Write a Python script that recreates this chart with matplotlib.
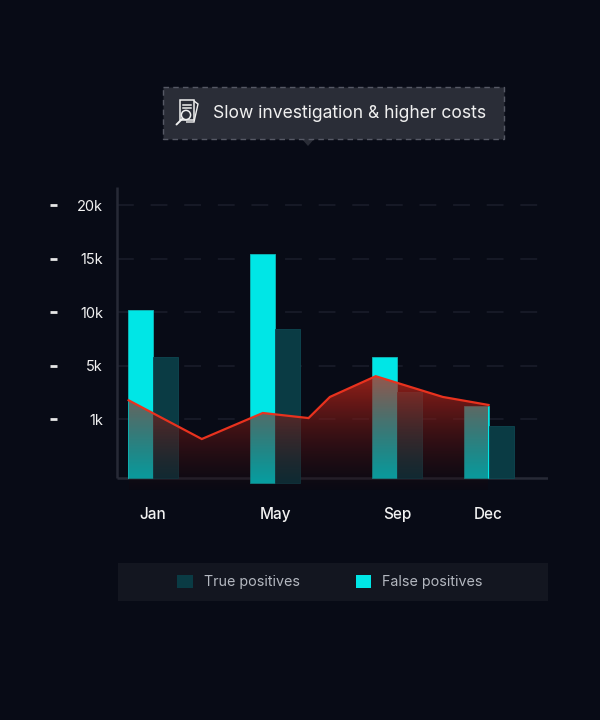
import numpy as np
from matplotlib import pyplot as plt
from matplotlib.patches import Rectangle, Polygon, Circle

plt.rcParams['font.family'] = ['Inter', 'DejaVu Sans']

# chart data (values in thousands)
months = ['Jan', 'May', 'Sep', 'Dec']
month_num = [1, 5, 9, 12]
false_pos = [10.2, 15.4, 5.75, 1.95]
true_pos = [5.75, 8.4, 3.05, 0.88]
bar_bottom = [0, -0.09, 0, 0]

trend_month = [0.2, 2.6, 4.6, 6.1, 6.8, 8.3, 10.5, 12.0]
trend_k = [2.4, 0.66, 1.45, 1.07, 2.65, 4.2, 2.65, 2.05]

tick_k = [1, 5, 10, 15, 20]
tick_lab = ['1k', '5k', '10k', '15k', '20k']

BG = '#080b16'
CYAN = '#00e6e6'
TEAL = '#0a3b44'
RED = '#e8321e'

# the value axis is stretched so that ticks 1k..20k sit evenly
KP = [-10, 0, 1, 5, 10, 15, 20, 30]
PP = [-11.1, -0.1, 1, 2, 3, 4, 5, 7]


def fwd(k):
    return np.interp(k, KP, PP)


def inv(p):
    return np.interp(p, PP, KP)


fig = plt.figure(figsize=(6, 7.2), dpi=100, facecolor=BG)
ax = fig.add_axes([117/600, 1-490/720, 431/600, 305/720])
ax.set_facecolor(BG)
ax.set_yscale('function', functions=(fwd, inv))

for s in ax.spines.values():
    s.set_visible(False)

xlo, xhi = -0.18, 13.95
ylo, yhi = inv(-0.327), inv(5.374)

# grid
for k in tick_k:
    ax.axhline(k, color='#1b1e2b', lw=1.1, ls=(0, (11, 11)), zorder=0)

# axis lines
ax.plot([xlo, xlo], [0, yhi - 0.2], color='#272a36', lw=1.8, zorder=1,
        clip_on=False, solid_capstyle='butt')
ax.plot([xlo, xhi], [0, 0], color='#272a36', lw=1.8, zorder=1,
        solid_capstyle='butt')

w = 0.82
x = np.array(month_num, dtype=float)
hb = np.array(bar_bottom)
ax.bar(x - w/2, np.array(false_pos) - hb, w, bottom=hb, color=CYAN,
       edgecolor='#10b8b8', lw=0.6, zorder=2, label='False positives')
ax.bar(x + w/2, np.array(true_pos) - hb, w, bottom=hb, color=TEAL,
       edgecolor='#0e4852', lw=0.6, zorder=2, label='True positives')

# red area with vertical fade (image rows are even in k, fade is even on screen)
n = 512
ktop = max(trend_k)
krow = np.linspace(ylo, ktop, n)
t = ((fwd(krow) - fwd(ylo)) / (fwd(ktop) - fwd(ylo)))[:, None]
grad = np.zeros((n, 1, 4))
grad[..., 0] = (14 + (200 - 14) * t) / 255
grad[..., 1] = (6 + (40 - 6) * t) / 255
grad[..., 2] = (14 + (26 - 14) * t) / 255
grad[..., 3] = 0.3 + 0.45 * t
verts = [(trend_month[0], ylo)] + list(zip(trend_month, trend_k)) + [(trend_month[-1], ylo)]
poly = Polygon(verts, closed=True, facecolor='none', edgecolor='none',
               transform=ax.transData)
ax.add_patch(poly)
img = ax.imshow(grad, extent=[trend_month[0], trend_month[-1], ylo, ktop],
                origin='lower', aspect='auto', zorder=3, interpolation='bilinear')
img.set_clip_path(poly)

ax.plot(trend_month, trend_k, color=RED, lw=1.6, zorder=5,
        solid_joinstyle='miter')

ax.set_xlim(xlo, xhi)
ax.set_ylim(ylo, yhi)

ax.set_xticks(month_num, months)
ax.set_yticks(tick_k, tick_lab)
ax.yaxis.set_minor_locator(plt.NullLocator())
ax.tick_params(axis='x', length=0, pad=12, colors='#f2f2f2', labelsize=11)
ax.tick_params(axis='y', length=0, pad=10, colors='#f2f2f2', labelsize=10.5)
for lab in ax.get_xticklabels():
    lab.set_fontweight('medium')

# little dashes left of the value labels
yt = ax.get_yaxis_transform()
for k in tick_k:
    ax.plot([-0.155, -0.139], [k, k], color='#e6e6e6', lw=2,
            transform=yt, clip_on=False, solid_capstyle='butt')

# overlay in pixel coordinates for callout and legend panel
ov = fig.add_axes([0, 0, 1, 1], zorder=-1)
ov.set_xlim(0, 600)
ov.set_ylim(720, 0)
ov.axis('off')
ov.patch.set_alpha(0)

top = fig.add_axes([0, 0, 1, 1], zorder=10)
top.set_xlim(0, 600)
top.set_ylim(720, 0)
top.axis('off')
top.patch.set_alpha(0)

top.add_patch(Polygon([(301, 138), (315, 138), (308, 146)], closed=True,
                      facecolor='#2a2d37', edgecolor='none'))
top.add_patch(Rectangle((163, 87), 341, 52, facecolor='#2a2d37',
                        edgecolor='#565965', lw=1, ls=(0, (4, 3))))
# document + magnifier icon
ic = '#f0f0f0'
top.add_patch(Polygon([(186, 101), (194, 101), (198, 104), (194, 122), (186, 122)],
                      closed=False, facecolor='none', edgecolor=ic, lw=1))
top.add_patch(Rectangle((180, 100), 14, 20, facecolor='#2a2d37', edgecolor=ic, lw=1.1))
top.plot([183, 191], [105, 105], color=ic, lw=1.1)
top.plot([183, 191], [108, 108], color=ic, lw=1.1)
top.add_patch(Circle((186, 115), 4.6, facecolor='#2a2d37', edgecolor=ic, lw=1.1))
top.plot([182.6, 176.5], [118.5, 124.5], color=ic, lw=1.4, solid_capstyle='round')
top.text(213, 113, 'Slow investigation & higher costs', color='#f0f0f0',
         fontsize=12.6, va='center', ha='left')

# legend panel
ov.add_patch(Rectangle((118, 563), 430, 38, facecolor='#131620', edgecolor='none'))
h, l = ax.get_legend_handles_labels()
leg = fig.legend(h[::-1], l[::-1], loc='center',
                 bbox_to_anchor=(330/600, 1-582/720), ncol=2, frameon=False,
                 fontsize=10.3, handlelength=1.1, handleheight=1.1,
                 handletextpad=0.75, columnspacing=3.9)
for txt in leg.get_texts():
    txt.set_color('#b4b8c0')
for p in leg.legend_handles:
    p.set_edgecolor('none')

fig.savefig('out.png', dpi=100, facecolor=BG)
